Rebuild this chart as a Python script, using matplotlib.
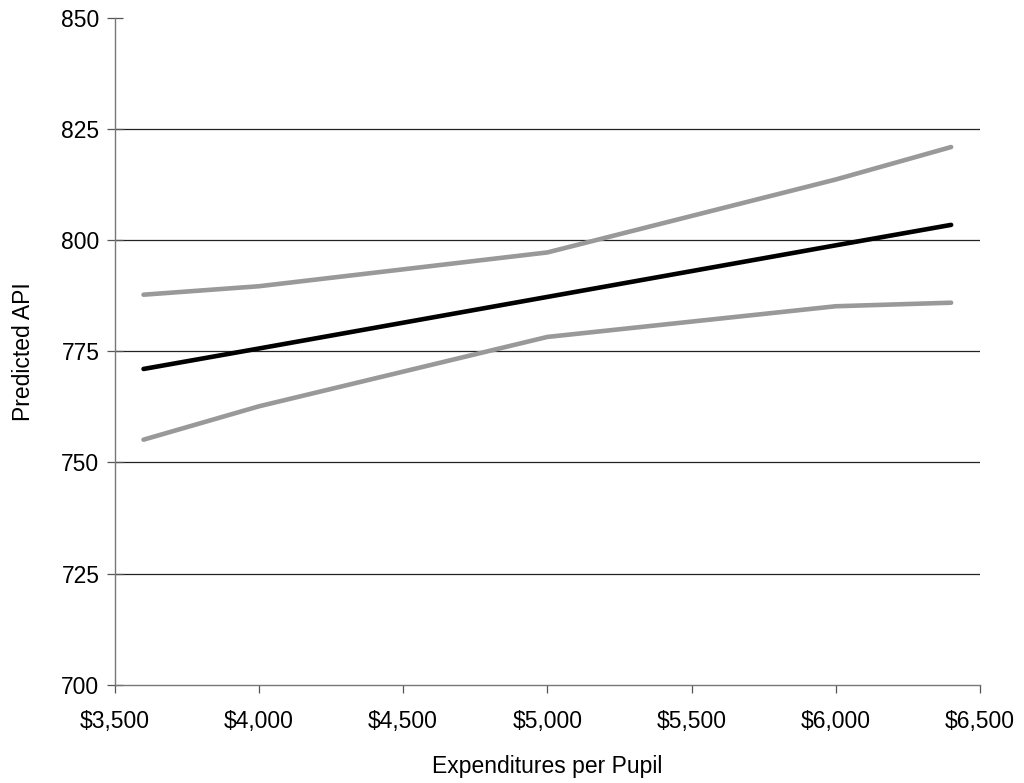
import matplotlib
matplotlib.use("Agg")
import matplotlib.pyplot as plt
from matplotlib.ticker import FuncFormatter, MultipleLocator

plt.rcParams['font.family'] = ['Liberation Sans', 'DejaVu Sans']

# expenditures per pupil and predicted API (estimate + bounds)
spend = [3600, 4000, 5000, 6000, 6400]
upper = [787.7, 789.6, 797.2, 813.6, 820.9]
predicted = [771.0, 775.6, 787.2, 798.8, 803.4]
lower = [755.1, 762.6, 778.2, 785.1, 785.9]

fig = plt.figure(figsize=(10.24, 7.83), dpi=100)
ax = fig.add_axes([0.112, 0.1255, 0.845, 0.852])

ax.plot(spend, upper, color='#999999', lw=3.3, solid_capstyle='round')
ax.plot(spend, lower, color='#999999', lw=3.3, solid_capstyle='round')
ax.plot(spend, predicted, color='black', lw=3.3, solid_capstyle='round')

ax.set_xlim(3500, 6500)
ax.set_ylim(700, 850)
ax.xaxis.set_major_locator(MultipleLocator(500))
ax.yaxis.set_major_locator(MultipleLocator(25))
ax.xaxis.set_major_formatter(FuncFormatter(lambda v, p: "${:,.0f}".format(v)))

for y in [725, 750, 775, 800, 825]:
    ax.axhline(y, color='#222222', lw=0.9, zorder=0)

for s in ['top', 'right']:
    ax.spines[s].set_visible(False)
for s in ['left', 'bottom']:
    ax.spines[s].set_color('#777777')
    ax.spines[s].set_linewidth(1.0)

ax.tick_params(axis='y', direction='inout', length=12, width=0.9, color='#555555', labelsize=16.5, pad=5)
ax.tick_params(axis='x', direction='out', length=6, width=0.9, color='#555555', labelsize=16.5, pad=12)

ax.set_xlabel("Expenditures per Pupil", fontsize=16.5, labelpad=16)
ax.set_ylabel("Predicted API", fontsize=16.5, labelpad=19)

fig.savefig("out.png", dpi=100)
